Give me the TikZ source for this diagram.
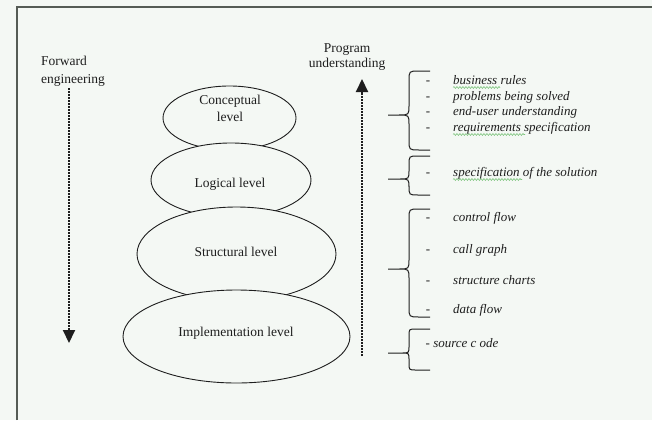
\documentclass[tikz,border=0pt]{standalone}
\usepackage{fontspec}
\setmainfont{Liberation Serif}
\usetikzlibrary{arrows.meta,decorations.pathmorphing,shapes.geometric}
\definecolor{bg}{HTML}{F4F8F4}
\definecolor{framec}{HTML}{555C55}
\definecolor{ink}{HTML}{1E1E1E}
\definecolor{squig}{HTML}{7CC47C}
\newcommand\levelbrace[4]{% top, tip, bottom, radius
  \draw[bracepath] (430,#1) -- ({409+#4},#1) .. controls (409,#1) .. (409,{#1+#4})
    -- (409,{#2-#4}) .. controls (409,#2) .. ({409-#4},#2) -- (388,#2)
    -- ({409-#4},#2) .. controls (409,#2) .. (409,{#2+#4})
    -- (409,{#3-#4}) .. controls (409,#3) .. ({409+#4},#3) -- (430,#3);}
\begin{document}
\begin{tikzpicture}[x=1pt,y=-1pt,
  lvl/.style={ellipse, draw=ink, fill=bg, line width=0.9pt, inner sep=0pt},
  lbl/.style={font=\fontsize{13.5}{17}\selectfont, text=ink, inner sep=0pt, align=center},
  item/.style={font=\fontsize{13}{15}\selectfont\itshape, text=ink, inner sep=0pt, anchor=base west},
  dashmark/.style={font=\fontsize{13}{15}\selectfont, text=ink, inner sep=0pt, anchor=base},
  dotarrow/.style={draw=ink, line width=2pt, dash pattern=on 1.6pt off 1.4pt, -{Triangle[width=12pt,length=13pt]}},
  bracepath/.style={line width=1pt, draw=ink},
  squiggle/.style={draw=squig, line width=0.6pt, decorate, decoration={snake, amplitude=0.9pt, segment length=3pt}}
]
\fill[bg] (0,0) rectangle (652,420);
\useasboundingbox (0,0) rectangle (652,420);
\draw[framec, line width=2pt] (16.5,420) -- (16.5,7.5) -- (652,7.5);

% level ellipses (later ones drawn over earlier ones)
\node[lvl, minimum width=133pt, minimum height=64pt] (concept) at (229.5,118) {};
\node[lvl, minimum width=160pt, minimum height=74pt] (logical) at (231,180) {};
\node[lvl, minimum width=199pt, minimum height=94pt] (struct) at (236.5,254) {};
\node[lvl, minimum width=227pt, minimum height=93pt] (impl) at (236.5,336.5) {};

\node[lbl] (concepttext) at (230,108.5) {Conceptual\\level};
\node[lbl] (logicaltext) at (230,184) {Logical level};
\node[lbl] (structtext) at (236,252) {Structural level};
\node[lbl] (impltext) at (236,333) {Implementation level};

% side captions
\node[lbl, align=left, anchor=west, font=\fontsize{13.5}{18}\selectfont] (fwd) at (41,71) {Forward\\engineering};
\node[lbl, font=\fontsize{13.5}{14.5}\selectfont] (prog) at (347,57) {Program\\understanding};

% dotted arrows
\coordinate (fwdtop) at (69,88);
\coordinate (fwdbot) at (69,343);
\draw[dotarrow] (fwdtop) -- (fwdbot);
\coordinate (progbot) at (362,356);
\coordinate (progtop) at (362,79);
\draw[dotarrow] (progbot) -- (progtop);

% braces
\levelbrace{71}{115}{150}{10}
\levelbrace{156}{179}{195}{9}
\levelbrace{209}{269}{317}{10}
\levelbrace{329}{353}{370}{7}

% items
\foreach \yy/\txt/\nm in {84/business rules/i1, 100/problems being solved/i2, 115/end-user understanding/i3, 131/requirements specification/i4,
  176/specification of the solution/i5,
  221/control flow/i6, 253/call graph/i7, 284/structure charts/i8, 313/data flow/i9}{
  \node[dashmark] (d\nm) at (428,\yy) {-};
  \node[item] (\nm) at (453,\yy) {\txt};
}
\node[item] (i10) at (425.5,347) {- source c ode};

% spell-check squiggles
\draw[squiggle] (453,87.5) -- (500,87.5);
\draw[squiggle] (453,134.5) -- (525,134.5);
\draw[squiggle] (453,179.5) -- (522,179.5);
\end{tikzpicture}
\end{document}
